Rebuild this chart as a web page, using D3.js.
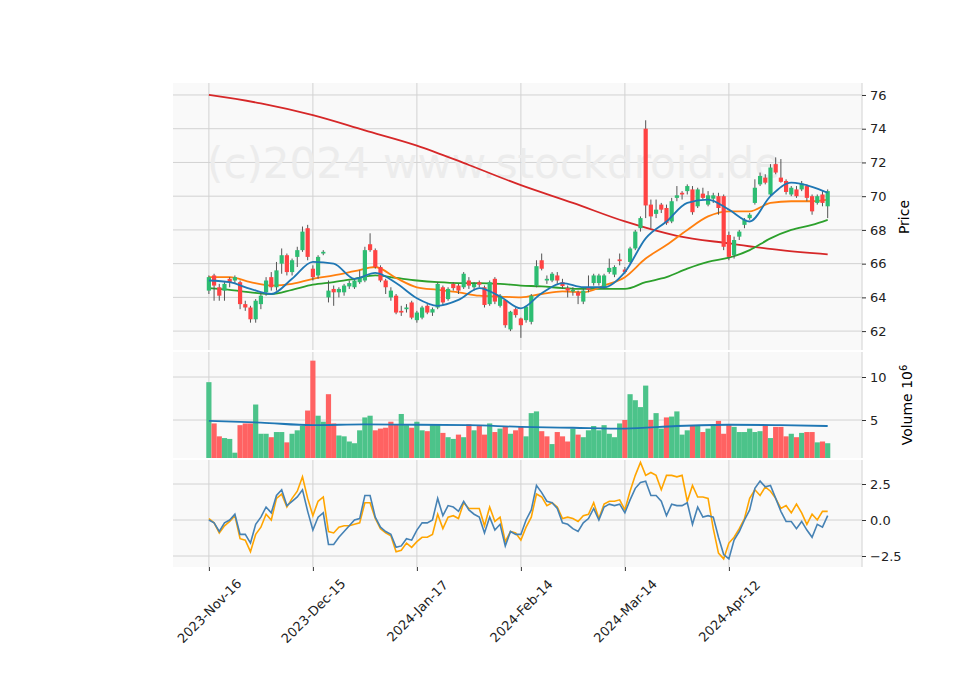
<!DOCTYPE html>
<html>
<head>
<meta charset="utf-8">
<script src="https://cdn.jsdelivr.net/npm/d3@7"></script>
<style>
  body { margin: 0; background: #fff; }
  text { font-family: "DejaVu Sans", sans-serif; }
</style>
</head>
<body>
<svg id="chart" width="960" height="690"></svg>
<script>
// --- data: candles [open, high, low, close], one per trading day ---
const candles = [
  [64.4,65.3,64.2,65.2],[65.3,65.4,63.8,64.7],[64.6,64.8,63.8,64.1],[64.4,64.9,63.8,64.8],[65.1,65.2,64.6,64.9],
  [65.0,65.3,64.8,65.2],[64.9,65.0,63.3,63.6],[63.6,63.8,63.2,63.4],[63.4,63.5,62.5,62.7],[62.7,63.9,62.5,63.8],
  [63.6,64.3,63.3,64.1],[64.3,65.2,64.1,65.0],[65.2,65.5,64.4,64.6],[64.6,66.1,64.4,65.6],[66.0,66.9,65.4,66.5],
  [66.5,66.6,65.3,65.5],[65.5,66.3,65.3,66.2],[66.4,67.0,65.8,66.8],[66.8,68.2,66.7,67.9],[68.1,68.3,66.2,66.4],
  [65.7,65.9,65.0,65.2],[65.3,66.5,65.1,66.4],[66.6,66.8,66.5,66.7],[64.0,65.0,63.7,64.4],[64.5,64.7,63.5,64.3],
  [64.3,64.6,64.0,64.5],[64.3,64.8,64.1,64.7],[64.65,65.0,64.5,64.85],[64.6,65.1,64.5,65.0],[64.9,65.6,64.8,65.2],
  [65.0,67.0,64.9,66.8],[67.15,67.8,66.7,66.8],[66.8,66.9,65.7,65.8],[65.8,65.9,64.9,65.0],[65.0,65.1,64.2,64.6],
  [64.0,64.6,63.8,64.4],[64.1,64.2,63.0,63.1],[63.2,63.5,62.9,63.1],[63.3,63.6,63.1,63.4],[63.7,63.8,62.7,62.8],
  [62.65,63.2,62.5,63.1],[62.8,63.5,62.7,63.4],[63.5,63.6,63.0,63.1],[63.1,63.4,62.9,63.3],[63.4,64.9,63.3,64.8],
  [64.6,64.7,63.5,63.7],[63.9,64.6,63.8,64.5],[64.8,64.9,64.4,64.55],[64.7,64.8,64.2,64.4],[64.6,65.5,64.5,65.4],
  [65.0,65.2,64.5,64.7],[64.6,64.9,64.4,64.8],[64.9,65.0,64.6,64.75],[64.6,64.7,63.4,63.55],[63.6,65.0,63.5,64.9],
  [65.1,65.2,63.6,63.75],[63.5,64.2,63.4,64.1],[63.85,63.9,62.2,62.35],[62.1,63.2,62.0,63.15],[63.3,63.4,62.8,62.95],
  [62.75,62.8,61.6,62.35],[62.65,63.5,62.5,63.45],[62.55,64.2,62.4,64.1],[64.7,66.2,64.6,65.85],[66.2,66.6,65.6,65.7],
  [65.0,65.3,64.8,65.1],[65.0,65.5,64.9,65.4],[65.3,65.5,64.8,65.0],[64.9,65.1,64.5,64.67],[64.55,64.7,64.0,64.4],
  [64.35,64.6,64.1,64.45],[64.3,64.4,63.6,64.1],[63.75,64.5,63.6,64.4],[64.6,65.3,64.3,64.45],[64.85,65.4,64.7,65.3],
  [64.85,65.4,64.7,65.3],[64.6,65.4,64.5,65.3],[65.5,66.3,65.4,65.75],[65.35,65.9,65.2,65.8],[66.25,66.6,65.9,66.15],
  [65.65,65.8,65.4,65.5],[66.1,67.0,66.0,66.9],[66.9,68.0,66.8,67.9],[68.1,68.8,67.9,68.7],[74.0,74.5,68.7,69.45],
  [69.5,69.8,68.1,68.8],[68.95,69.8,68.7,69.2],[69.5,69.6,69.0,69.2],[69.3,69.5,68.3,68.4],[68.5,69.9,68.4,69.7],
  [69.9,70.6,69.7,70.05],[70.2,70.3,69.8,70.1],[70.3,70.7,70.1,70.6],[70.4,70.6,68.9,69.05],[69.4,70.5,69.3,70.4],
  [70.15,70.5,69.8,69.9],[69.5,70.3,69.4,70.05],[69.85,70.2,69.6,70.05],[70.0,70.2,68.9,69.3],[70.0,70.1,66.8,67.0],
  [67.7,67.9,66.2,66.4],[66.5,67.6,66.3,67.4],[67.6,68.0,67.4,67.9],[68.3,68.7,68.1,68.6],[68.7,69.0,68.6,68.9],
  [69.6,71.0,69.5,70.5],[70.7,71.4,70.6,71.2],[71.1,71.3,70.7,70.8],[70.1,71.9,70.0,71.7],[71.9,72.3,71.3,71.4],
  [71.1,72.2,70.8,70.85],[70.9,71.0,70.1,70.25],[70.1,70.6,70.0,70.5],[70.4,70.6,69.9,70.0],[70.4,70.9,70.3,70.75],
  [70.6,70.7,69.7,69.9],[70.0,70.1,68.9,69.1],[69.6,70.1,69.5,70.0],[70.1,70.3,69.4,69.6],[69.4,70.4,68.7,70.3]
];

// volume in millions
const volume = [
  9.4,4.6,3.1,2.9,2.8,1.2,4.4,4.6,4.6,6.8, 3.4,3.4,3.0,3.6,3.6,2.4,3.4,3.8,4.3,6.1,
  11.9,5.5,4.8,8.0,4.6,3.2,3.1,2.5,2.3,3.8, 5.3,5.5,3.8,4.0,4.1,4.8,4.5,5.7,4.4,4.1,
  4.8,3.8,3.7,4.4,4.4,3.5,3.0,2.8,3.3,3.0, 4.5,3.8,4.4,3.3,4.6,3.6,4.0,4.3,3.4,3.8,
  4.2,3.1,5.8,6.0,3.7,3.1,2.2,3.6,3.1,2.5, 4.0,3.3,3.0,3.8,4.3,3.8,4.4,3.4,3.0,4.6,
  5.0,8.0,7.3,6.5,9.0,5.0,5.8,4.0,5.3,5.4, 6.0,3.3,3.8,4.4,4.3,3.6,4.0,4.3,4.9,3.4,
  4.5,4.2,3.6,3.6,4.0,3.6,3.7,4.4,2.9,4.2, 4.2,3.1,3.4,3.0,3.5,3.6,3.6,2.4,2.5,2.3
];

// moving averages, read every 4 days
const maIdx = [0,4,8,12,16,20,24,28,32,36,40,44,48,52,56,60,64,68,72,76,80,84,88,92,96,100,104,108,112,116,119];
const maBlue = [65.0,64.9,64.5,64.2,65.1,66.1,66.0,65.1,65.45,64.85,63.95,63.5,63.85,64.55,64.05,63.35,64.25,64.85,64.6,64.6,65.5,67.5,68.5,69.6,69.8,69.2,68.5,70.0,70.8,70.55,70.2];
const maOrange = [65.2,65.2,64.9,64.7,64.8,65.1,65.3,65.55,65.8,65.15,64.6,64.45,64.3,64.1,64.05,64.0,64.2,64.35,64.3,64.7,65.2,66.3,67.1,68.0,68.8,69.1,69.1,69.6,69.7,69.7,69.8];
const maGreen = [64.55,64.45,64.3,64.2,64.45,64.75,64.9,65.1,65.3,65.15,65.0,64.9,64.85,64.85,64.8,64.7,64.65,64.55,64.5,64.5,64.5,64.9,65.2,65.7,66.1,66.35,66.8,67.5,68.0,68.3,68.6];
// long average, read every 10 days
const longIdx = [0,10,20,30,40,50,60,70,80,90,100,110,119];
const maRed = [76.0,75.5,74.8,73.9,73.0,71.85,70.65,69.6,68.5,67.65,67.2,66.8,66.55];
const volMa = [4.9,4.7,4.4,4.5,4.45,4.4,4.2,4.1,4.0,4.3,4.45,4.4,4.3];

// oscillator pair
const oscBlue = [
  0,-0.2,-0.8,-0.2,0,0.4,-1.0,-1.0,-1.6,-0.3, 0.2,0.9,0.5,1.7,2.1,1.0,1.3,1.6,2.1,0.6,
  -0.7,0.2,0.5,-1.7,-1.7,-1.2,-0.8,-0.4,0,0.1, 1.7,1.7,0.2,-0.5,-0.8,-1.0,-1.9,-1.8,-1.3,-1.4,
  -0.7,-0.2,-0.2,0,1.5,0.3,1.0,0.9,0.6,1.3, 0.7,0.4,0.2,-0.9,0.2,-0.7,-0.3,-1.8,-0.8,-1.0,
  -1.0,0,0.7,2.4,1.9,1.3,1.2,0.8,-0.2,-0.3, -0.6,-0.8,-0.2,0.1,0.8,0,0.9,1.1,1.0,1.1,
  0.5,1.4,2.2,2.6,2.7,1.7,1.7,1.3,0.3,1.1, 1.0,1.0,1.2,-0.3,0.9,0.2,0.3,0.2,-1.2,-2.4,
  -2.7,-1.4,-0.8,0,0.7,2.2,2.7,2.3,2.4,1.5, 0.6,-0.1,-0.1,-0.6,-0.1,-0.7,-1.2,-0.3,-0.5,0.3
];
const oscOrange = [
  0.1,-0.2,-0.9,-0.4,-0.1,0.3,-1.3,-1.4,-2.2,-1.0, -0.5,0.4,0,1.5,1.8,0.9,1.5,2.0,3.0,1.5,
  0.3,1.3,1.6,-0.8,-0.9,-0.5,-0.4,-0.4,-0.3,-0.2, 1.2,1.2,0.1,-0.6,-0.9,-1.1,-2.2,-2.1,-1.6,-1.9,
  -1.5,-1.2,-1.2,-1.0,0.4,-0.6,0.2,0.3,0.1,1.2, 0.8,0.8,0.8,-0.4,0.9,-0.1,0.2,-1.5,-0.8,-0.9,
  -1.4,-0.5,0.2,1.8,1.6,1.0,1.2,0.9,0.1,0.2, 0.1,-0.1,0.3,0.4,1.2,0.1,1.1,1.3,1.3,1.4,
  0.7,2.0,3.1,4.0,3.1,3.3,3.1,2.1,3.1,3.1, 3.0,3.1,1.3,2.4,1.6,1.6,1.5,-0.6,-2.3,-2.7,
  -1.6,-1.2,-0.6,0.1,1.5,2.1,1.7,2.3,2.0,1.5, 0.8,1.0,0.5,1.1,0.5,-0.3,0.4,0,0.6,0.6
];

const xTickIdx = [0,20,40,60,80,100];
const xTickLabels = ["2023-Nov-16","2023-Dec-15","2024-Jan-17","2024-Feb-14","2024-Mar-14","2024-Apr-12"];
const priceTicks = [62,64,66,68,70,72,74,76];
const volTicks = [5,10];
const oscTicks = [-2.5,0,2.5];

const svg = d3.select("#chart");
const left = 173, right = 862;
const upCol = "#2dbd72", downCol = "#ff4343";
const upVol = "#4cc38a", downVol = "#ff6262";
const gridCol = "#d2d2d2";

const x = d3.scaleLinear().domain([-6.9, 125.6]).range([left, right]);
const yP = d3.scaleLinear().domain([60.88, 76.71]).range([350, 83]);
const yV = d3.scaleLinear().domain([0, 10]).range([463, 377]);
const yO = d3.scaleLinear().domain([-2.5, 2.5]).range([556, 484]);

const panels = [
  { top: 83, bottom: 350, y: yP, ticks: priceTicks, fmt: d3.format("d") },
  { top: 352, bottom: 458, y: yV, ticks: volTicks, fmt: d3.format("d") },
  { top: 460, bottom: 567, y: yO, ticks: oscTicks, fmt: d => d3.format(".1f")(d).replace("-", "\u2212") }
];

// --- panel background, grid and right axis ---
panels.forEach(p => {
  const g = svg.append("g");
  g.append("rect").attr("x", left).attr("y", p.top)
    .attr("width", right - left).attr("height", p.bottom - p.top).attr("fill", "#f9f9f9");
  g.selectAll("line.v").data(xTickIdx).enter().append("line")
    .attr("x1", d => x(d)).attr("x2", d => x(d)).attr("y1", p.top).attr("y2", p.bottom)
    .attr("stroke", gridCol).attr("stroke-width", 1);
  g.selectAll("line.h").data(p.ticks).enter().append("line")
    .attr("x1", left).attr("x2", right).attr("y1", d => p.y(d)).attr("y2", d => p.y(d))
    .attr("stroke", gridCol).attr("stroke-width", 1);
  g.append("line").attr("x1", right).attr("x2", right).attr("y1", p.top).attr("y2", p.bottom)
    .attr("stroke", gridCol);
  const ax = g.append("g").attr("transform", `translate(${right},0)`)
    .call(d3.axisRight(p.y).tickValues(p.ticks).tickFormat(p.fmt).tickSize(4).tickPadding(4));
  ax.select(".domain").remove();
  ax.selectAll("line").attr("stroke", "#333");
  ax.selectAll("text").style("font-size", "13px").attr("fill", "#222");
});

// watermark
svg.append("text").attr("x", 207).attr("y", 178)
  .style("font-size", "42px").attr("fill", "#ececec").text("(c)2024 www.stockdroid.de");

const idx = d3.range(candles.length);
const bw = 4.2;

// --- moving averages ---
const line = (xs, ys, sc) => d3.line().x((d, i) => x(xs[i])).y(d => sc(d)).curve(d3.curveMonotoneX)(ys);
svg.append("path").attr("d", line(longIdx, maRed, yP)).attr("fill", "none").attr("stroke", "#d62728").attr("stroke-width", 1.8);
svg.append("path").attr("d", line(maIdx, maGreen, yP)).attr("fill", "none").attr("stroke", "#2ca02c").attr("stroke-width", 1.8);
svg.append("path").attr("d", line(maIdx, maOrange, yP)).attr("fill", "none").attr("stroke", "#ff7f0e").attr("stroke-width", 1.8);

// --- candles ---
const cg = svg.append("g");
cg.selectAll("line").data(idx).enter().append("line")
  .attr("x1", i => x(i)).attr("x2", i => x(i))
  .attr("y1", i => yP(candles[i][1])).attr("y2", i => yP(candles[i][2]))
  .attr("stroke", "#555").attr("stroke-width", 1);
cg.selectAll("rect").data(idx).enter().append("rect")
  .attr("x", i => x(i) - bw / 2).attr("width", bw)
  .attr("y", i => yP(Math.max(candles[i][0], candles[i][3])))
  .attr("height", i => Math.max(1, Math.abs(yP(candles[i][0]) - yP(candles[i][3]))))
  .attr("fill", i => candles[i][3] >= candles[i][0] ? upCol : downCol);

svg.append("path").attr("d", line(maIdx, maBlue, yP)).attr("fill", "none").attr("stroke", "#1f77b4").attr("stroke-width", 1.8);

// --- volume ---
svg.append("g").selectAll("rect").data(idx).enter().append("rect")
  .attr("x", i => x(i) - 2.6).attr("width", 5.2)
  .attr("y", i => yV(volume[i])).attr("height", i => 458 - yV(volume[i]))
  .attr("fill", i => (i === 0 || candles[i][3] >= candles[i - 1][3]) ? upVol : downVol);
svg.append("path").attr("d", line(longIdx, volMa, yV)).attr("fill", "none").attr("stroke", "#1f77b4").attr("stroke-width", 1.8);

// --- oscillator ---
const oLine = d3.line().x((d, i) => x(i)).y(d => yO(d));
svg.append("path").attr("d", oLine(oscOrange)).attr("fill", "none").attr("stroke", "#ffa500").attr("stroke-width", 1.6);
svg.append("path").attr("d", oLine(oscBlue)).attr("fill", "none").attr("stroke", "#4682b4").attr("stroke-width", 1.6);

// --- x axis ---
const xa = svg.append("g").attr("transform", "translate(0,567)")
  .call(d3.axisBottom(x).tickValues(xTickIdx).tickFormat((d, i) => xTickLabels[i]).tickSize(4));
xa.select(".domain").remove();
xa.selectAll("line").attr("stroke", "#333");
xa.selectAll("text").style("font-size", "13px").attr("fill", "#222")
  .attr("text-anchor", "middle").attr("y", 0).attr("dy", "0.35em")
  .attr("transform", "translate(0,44) rotate(-45)");

// --- axis titles ---
svg.append("text").attr("transform", "translate(909,217) rotate(-90)")
  .attr("text-anchor", "middle").style("font-size", "14px").text("Price");
const vt = svg.append("text").attr("transform", "translate(912,405) rotate(-90)")
  .attr("text-anchor", "middle").style("font-size", "14px");
vt.append("tspan").text("Volume  10");
vt.append("tspan").attr("dy", "-0.5em").style("font-size", "10px").text("6");
</script>
</body>
</html>
